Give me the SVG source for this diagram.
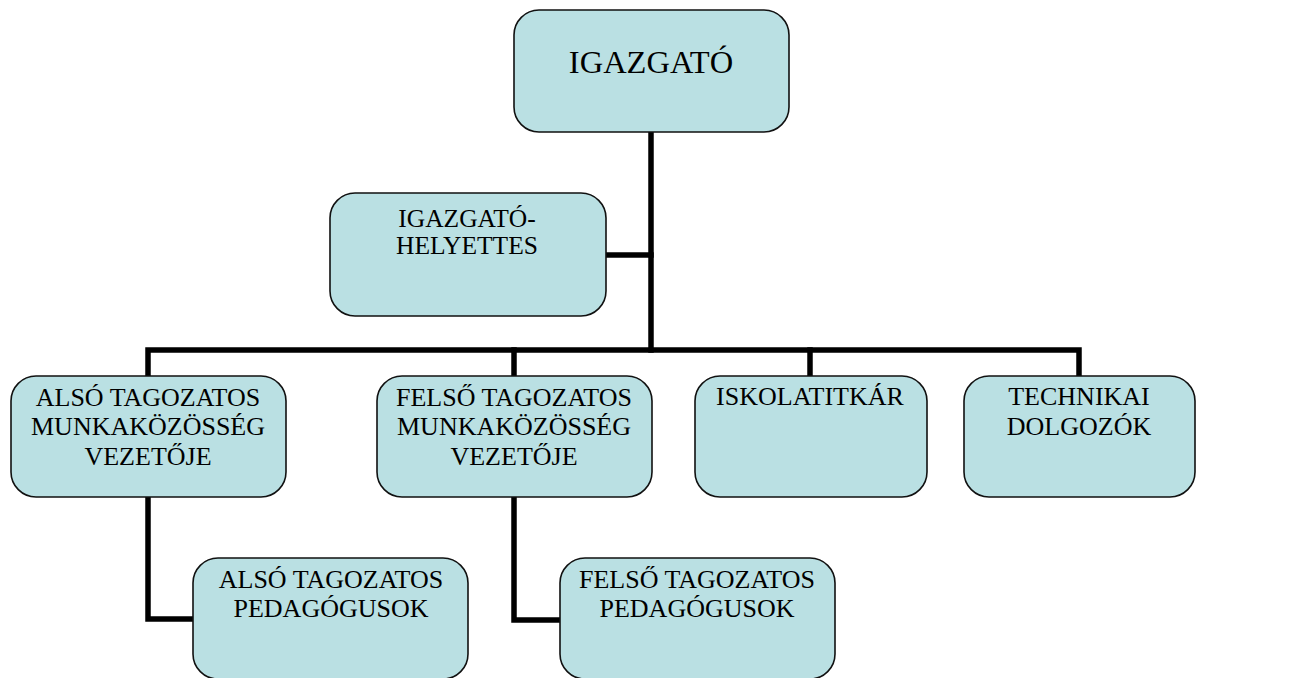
<svg xmlns="http://www.w3.org/2000/svg" width="1300" height="678" viewBox="0 0 1300 678">
<style>
.box{fill:#bae0e3;stroke:#111;stroke-width:1.6}
.ln{fill:none;stroke:#000;stroke-width:5.5;stroke-linejoin:miter;stroke-linecap:square}
text{font-family:"Liberation Serif","Times New Roman",serif;fill:#000;text-anchor:middle}
.t{font-size:26px}
.h{font-size:25.5px}
.big{font-size:32.5px}
</style>
<rect width="1300" height="678" fill="#fff"/>
<g id="connectors">
<path class="ln" d="M651,133 V350"/>
<path class="ln" d="M607,255 H651"/>
<path class="ln" d="M148,375 V350 H1079 V375"/>
<path class="ln" d="M514,350 V375"/>
<path class="ln" d="M810,350 V375"/>
<path class="ln" d="M148,498 V619 H192"/>
<path class="ln" d="M514,498 V620 H559"/>
</g>
<g id="igazgato">
<rect class="box" x="514" y="10" width="275" height="122" rx="25"/>
<text class="big" x="651" y="73">IGAZGATÓ</text>
</g>
<g id="helyettes">
<rect class="box" x="330" y="193" width="276" height="123" rx="25"/>
<text class="h" x="467" y="227">IGAZGATÓ-</text>
<text class="h" x="467" y="254">HELYETTES</text>
</g>
<g id="also-vezeto">
<rect class="box" x="11" y="376" width="275" height="121" rx="25"/>
<text class="t" x="148" y="406">ALSÓ TAGOZATOS</text>
<text class="t" x="148" y="435">MUNKAKÖZÖSSÉG</text>
<text class="t" x="148" y="465">VEZETŐJE</text>
</g>
<g id="felso-vezeto">
<rect class="box" x="377" y="376" width="275" height="121" rx="25"/>
<text class="t" x="514" y="406">FELSŐ TAGOZATOS</text>
<text class="t" x="514" y="435">MUNKAKÖZÖSSÉG</text>
<text class="t" x="514" y="465">VEZETŐJE</text>
</g>
<g id="iskolatitkar">
<rect class="box" x="695" y="376" width="232" height="121" rx="25"/>
<text class="t" x="810" y="405">ISKOLATITKÁR</text>
</g>
<g id="technikai">
<rect class="box" x="964" y="376" width="231" height="121" rx="25"/>
<text class="t" x="1079" y="405">TECHNIKAI</text>
<text class="t" x="1079" y="435">DOLGOZÓK</text>
</g>
<g id="also-ped">
<rect class="box" x="193" y="558" width="275" height="121" rx="25"/>
<text class="t" x="331" y="588">ALSÓ TAGOZATOS</text>
<text class="t" x="331" y="617">PEDAGÓGUSOK</text>
</g>
<g id="felso-ped">
<rect class="box" x="560" y="558" width="275" height="121" rx="25"/>
<text class="t" x="697" y="588">FELSŐ TAGOZATOS</text>
<text class="t" x="697" y="617">PEDAGÓGUSOK</text>
</g>
</svg>
